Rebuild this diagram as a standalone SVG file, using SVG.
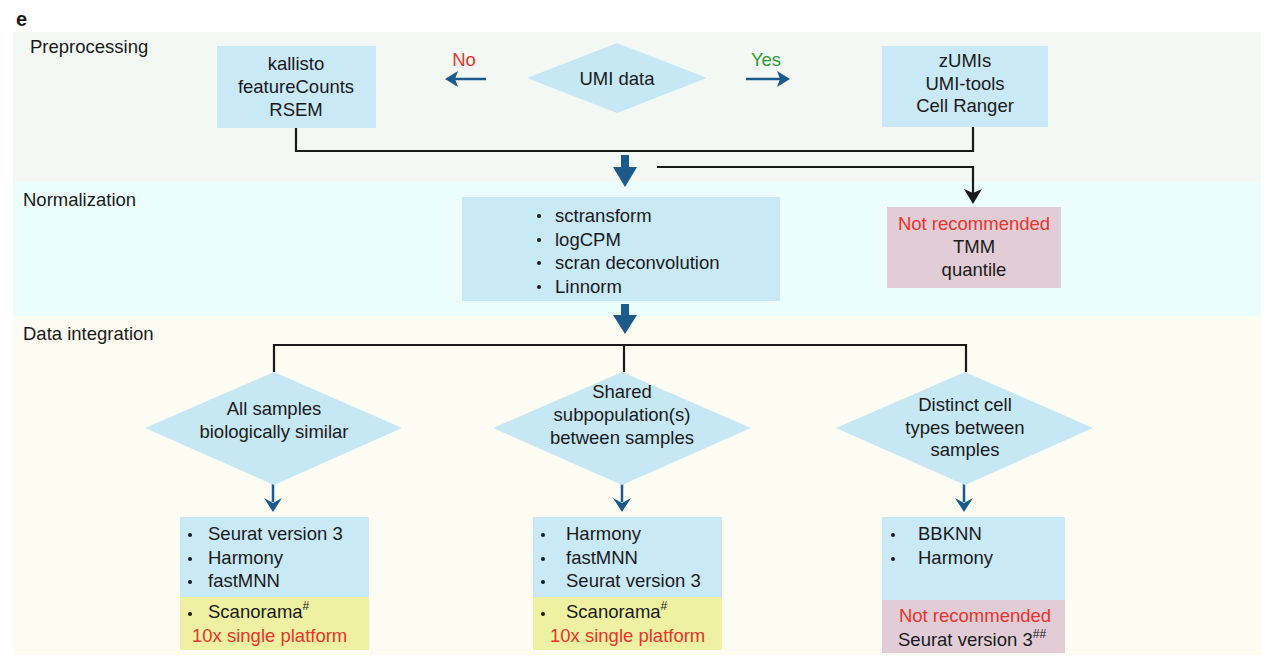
<svg xmlns="http://www.w3.org/2000/svg" width="1279" height="671" viewBox="0 0 1279 671">
<defs>
<style>
text{font-family:"Liberation Sans",Arial,sans-serif;font-size:18.5px;fill:#1a1a1a}
.c{text-anchor:middle}
.red{fill:#e8342b}
.grn{fill:#2e9a3a}
.box{fill:#c9e9f6}
.dia{fill:#c6e8f5}
.yel{fill:#eef0a2}
.pnk{fill:#e2cdd7}
.ln{fill:none;stroke:#1a1a1a;stroke-width:2.2}
.bl{fill:none;stroke:#1b5a8a;stroke-width:2.5}
.blf{fill:#1b5a8a}
.bk{fill:#1a1a1a}
.sup{font-size:12px}
</style>
</defs>
<rect width="1279" height="671" fill="#ffffff"/>
<text x="16" y="26" style="font-weight:bold;font-size:20px">e</text>
<g id="bands">
<rect x="13" y="32" width="1248" height="150" fill="#f3f8f4"/>
<rect x="13" y="182" width="1248" height="134" fill="#ecfdfd"/>
<rect x="13" y="316" width="1248" height="339" fill="#fcfcf3"/>
<text x="30" y="53">Preprocessing</text>
<text x="23" y="206">Normalization</text>
<text x="23" y="340">Data integration</text>
</g>
<g id="connectors">
<path class="ln" d="M296,128 V151 H973 V127"/>
<path class="ln" d="M657,167 H973 V193"/>
<path class="bk" d="M964,189 L973,193 L982,189 L973,204 Z"/>
<path class="blf" d="M621,155 H629 V167 H637 L625,187 L613,167 H621 Z"/>
<path class="blf" d="M621,304 H629 V315 H637 L625,334 L613,315 H621 Z"/>
<path class="ln" d="M274,372 V345 H966 V372 M624,345 V372"/>
<path class="bl" d="M486,79 H453"/>
<path class="blf" d="M445,79 L458,71 L455,79 L458,87 Z"/>
<path class="bl" d="M746,79 H782"/>
<path class="blf" d="M790,79 L777,71 L780,79 L777,87 Z"/>
<path class="bl" d="M273,479 V502"/>
<path class="blf" d="M273,512 L264,498 L273,503 L282,498 Z"/>
<path class="bl" d="M622,479 V502"/>
<path class="blf" d="M622,512 L613,498 L622,503 L631,498 Z"/>
<path class="bl" d="M964,479 V502"/>
<path class="blf" d="M964,512 L955,498 L964,503 L973,498 Z"/>
</g>
<g id="kallisto">
<rect class="box" x="217" y="46" width="159" height="82"/>
<text class="c" x="296" y="70">kallisto</text>
<text class="c" x="296" y="93">featureCounts</text>
<text class="c" x="296" y="116">RSEM</text>
</g>
<g id="umi">
<polygon class="dia" points="617,43 707,78 617,113 527,78"/>
<text class="c" x="617" y="85">UMI data</text>
<text class="c red" x="464" y="66">No</text>
<text class="c grn" x="766" y="66">Yes</text>
</g>
<g id="zumis">
<rect class="box" x="882" y="46" width="166" height="81"/>
<text class="c" x="965" y="67">zUMIs</text>
<text class="c" x="965" y="90">UMI-tools</text>
<text class="c" x="965" y="112">Cell Ranger</text>
</g>
<g id="norm">
<rect class="box" x="462" y="197" width="318" height="104"/>
<circle cx="539" cy="216" r="2" class="bk"/>
<circle cx="539" cy="240" r="2" class="bk"/>
<circle cx="539" cy="263" r="2" class="bk"/>
<circle cx="539" cy="287" r="2" class="bk"/>
<text x="555" y="222">sctransform</text>
<text x="555" y="246">logCPM</text>
<text x="555" y="269">scran deconvolution</text>
<text x="555" y="293">Linnorm</text>
</g>
<g id="norm-not">
<rect class="pnk" x="887" y="207" width="174" height="81"/>
<text class="c red" x="974" y="230">Not recommended</text>
<text class="c" x="974" y="253">TMM</text>
<text class="c" x="974" y="276">quantile</text>
</g>
<g id="d1">
<polygon class="dia" points="274,372 402,428 274,485 145,428"/>
<text class="c" x="274" y="415">All samples</text>
<text class="c" x="274" y="438">biologically similar</text>
</g>
<g id="d2">
<polygon class="dia" points="622,372 751,428 622,485 493,428"/>
<text class="c" x="622" y="398">Shared</text>
<text class="c" x="622" y="421">subpopulation(s)</text>
<text class="c" x="622" y="444">between samples</text>
</g>
<g id="d3">
<polygon class="dia" points="965,372 1093,428 965,485 836,428"/>
<text class="c" x="965" y="411">Distinct cell</text>
<text class="c" x="965" y="434">types between</text>
<text class="c" x="965" y="456">samples</text>
</g>
<g id="b1">
<rect class="box" x="180" y="517" width="189" height="80"/>
<rect class="yel" x="180" y="597" width="189" height="53"/>
<circle cx="190" cy="535" r="2" class="bk"/>
<circle cx="190" cy="559" r="2" class="bk"/>
<circle cx="190" cy="582" r="2" class="bk"/>
<circle cx="190" cy="614" r="2" class="bk"/>
<text x="208" y="540">Seurat version 3</text>
<text x="208" y="564">Harmony</text>
<text x="208" y="587">fastMNN</text>
<text x="208" y="618">Scanorama<tspan class="sup" dy="-8">#</tspan></text>
<text class="red" x="192" y="642">10x single platform</text>
</g>
<g id="b2">
<rect class="box" x="533" y="517" width="189" height="80"/>
<rect class="yel" x="533" y="597" width="189" height="53"/>
<circle cx="543" cy="535" r="2" class="bk"/>
<circle cx="543" cy="559" r="2" class="bk"/>
<circle cx="543" cy="582" r="2" class="bk"/>
<circle cx="543" cy="614" r="2" class="bk"/>
<text x="566" y="540">Harmony</text>
<text x="566" y="564">fastMNN</text>
<text x="566" y="587">Seurat version 3</text>
<text x="566" y="618">Scanorama<tspan class="sup" dy="-8">#</tspan></text>
<text class="red" x="550" y="642">10x single platform</text>
</g>
<g id="b3">
<rect class="box" x="882" y="517" width="183" height="83"/>
<rect class="pnk" x="882" y="600" width="183" height="53"/>
<circle cx="893" cy="535" r="2" class="bk"/>
<circle cx="893" cy="559" r="2" class="bk"/>
<text x="918" y="540">BBKNN</text>
<text x="918" y="564">Harmony</text>
<text class="c red" x="975" y="622">Not recommended</text>
<text x="898" y="646">Seurat version 3<tspan class="sup" dy="-8">##</tspan></text>
</g>
</svg>
